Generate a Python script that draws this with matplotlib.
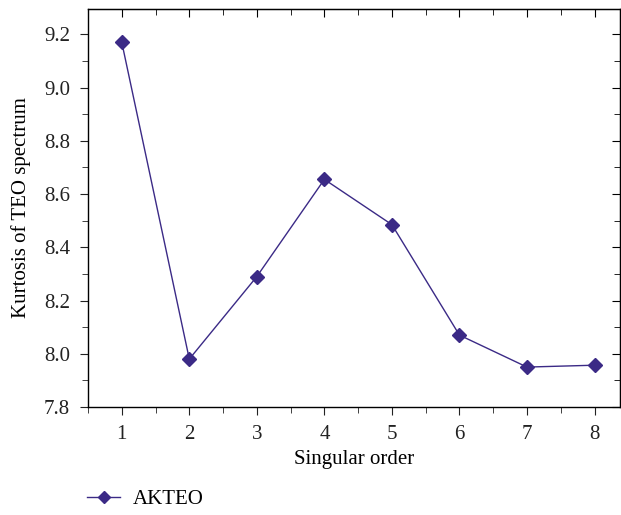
import matplotlib.pyplot as plt
from matplotlib.ticker import MultipleLocator
from matplotlib.lines import Line2D

orders = [1, 2, 3, 4, 5, 6, 7, 8]
kurtosis = [9.17, 7.98, 8.29, 8.655, 8.485, 8.07, 7.95, 7.957]

color = "#3b2a86"
plt.rcParams["font.family"] = ["Liberation Serif", "DejaVu Serif"]

fig = plt.figure(figsize=(6.21, 5.15), dpi=100)
ax = fig.add_axes([0.1417, 0.2097, 0.857, 0.7728])
ax.plot(orders, kurtosis, color=color, lw=1.0, marker="D", ms=7,
        markerfacecolor=color, markeredgecolor=color)

ax.set_xlim(0.5, 8.38)
ax.set_ylim(7.8, 9.295)
ax.set_xticks(orders)
ax.xaxis.set_minor_locator(MultipleLocator(0.5))
ax.yaxis.set_major_locator(MultipleLocator(0.2))
ax.yaxis.set_minor_locator(MultipleLocator(0.1))
ax.yaxis.set_major_formatter(plt.FormatStrFormatter("%.1f"))
ax.tick_params(which="both", direction="out", top=False, right=False,
               labelsize=15, colors="#222222")
ax.tick_params(which="major", length=6, pad=7)
ax.tick_params(which="minor", length=4)

# inward ticks on top and right
axt = ax.secondary_xaxis("top")
axt.set_xticks(orders)
axt.xaxis.set_minor_locator(MultipleLocator(0.5))
axt.tick_params(which="both", direction="in", labeltop=False)
axt.tick_params(which="major", length=6)
axt.tick_params(which="minor", length=4)
axr = ax.secondary_yaxis("right")
axr.yaxis.set_major_locator(MultipleLocator(0.2))
axr.yaxis.set_minor_locator(MultipleLocator(0.1))
axr.tick_params(which="both", direction="in", labelright=False)
axr.tick_params(which="major", length=6)
axr.tick_params(which="minor", length=4)

for s in ax.spines.values():
    s.set_linewidth(1.0)

ax.set_xlabel("Singular order", fontsize=15, labelpad=4)
ax.set_ylabel("Kurtosis of TEO spectrum", fontsize=15, labelpad=9)

handle = Line2D([], [], color=color, lw=1.0, marker="D", ms=6)
fig.legend(handles=[handle], labels=["AKTEO"], loc="lower left",
           bbox_to_anchor=(0.11, -0.025), frameon=False, fontsize=15,
           handlelength=1.6, handletextpad=0.6)

fig.savefig("out.png", dpi=100)
